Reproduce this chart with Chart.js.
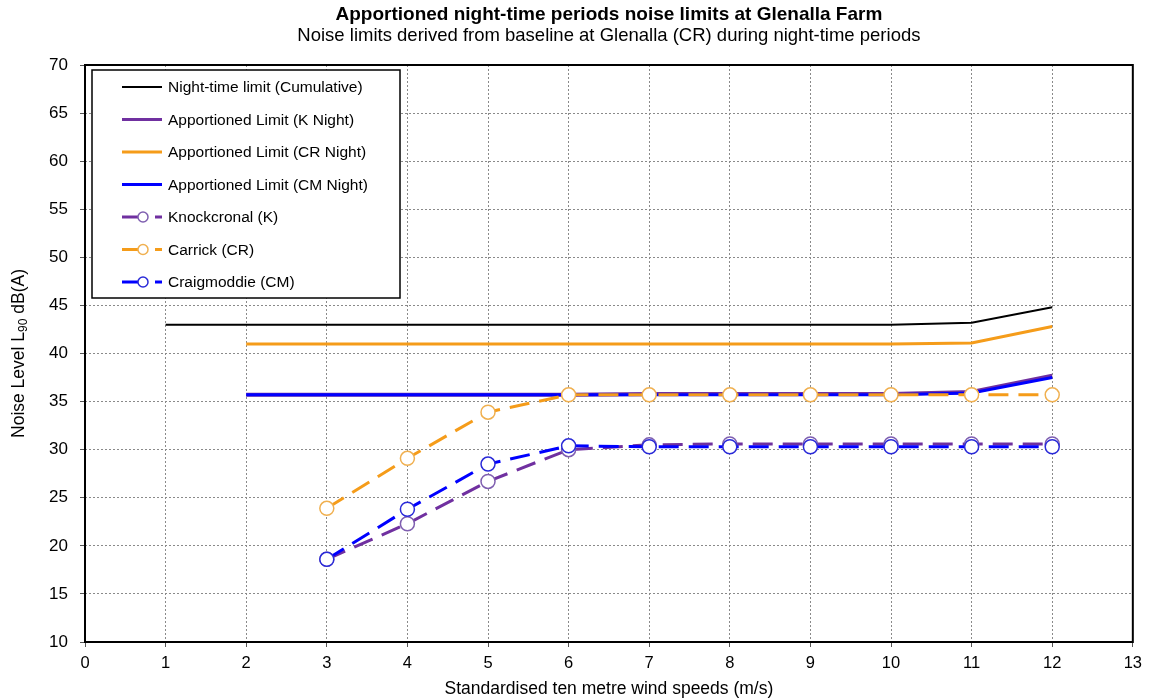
<!DOCTYPE html>
<html>
<head>
<meta charset="utf-8">
<script src="https://cdn.jsdelivr.net/npm/chart.js@4.4.1/dist/chart.umd.min.js"></script>
<style>
  body { margin: 0; background: #fff; }
  #wrap { width: 1149px; height: 700px; }
</style>
</head>
<body>
<div id="wrap"><canvas id="myChart" width="1149" height="700"></canvas></div>
<script>
// Wind speeds (m/s) shared by every series
const windSpeeds = [1, 2, 3, 4, 5, 6, 7, 8, 9, 10, 11, 12];

// Limits (dB LA90)
const nightCumulative = [43.0, 43.0, 43.0, 43.0, 43.0, 43.0, 43.0, 43.0, 43.0, 43.0, 43.2, 44.8];
const limitKNight  = [null, 35.7, 35.7, 35.7, 35.7, 35.7, 35.8, 35.8, 35.8, 35.8, 36.0, 37.7];
const limitCRNight = [null, 41.0, 41.0, 41.0, 41.0, 41.0, 41.0, 41.0, 41.0, 41.0, 41.1, 42.8];
const limitCMNight = [null, 35.7, 35.7, 35.7, 35.7, 35.7, 35.7, 35.7, 35.7, 35.7, 35.9, 37.5];

// Baseline derived levels per receptor
const knockcronal = [null, null, 18.6, 22.3, 26.7, 30.0, 30.5, 30.6, 30.6, 30.6, 30.6, 30.6];
const carrick     = [null, null, 23.9, 29.1, 33.9, 35.7, 35.7, 35.7, 35.7, 35.7, 35.7, 35.7];
const craigmoddie = [null, null, 18.6, 23.8, 28.5, 30.4, 30.3, 30.3, 30.3, 30.3, 30.3, 30.3];

const xTicks = [0, 1, 2, 3, 4, 5, 6, 7, 8, 9, 10, 11, 12, 13];

const chartTitle = 'Apportioned night-time periods noise limits at Glenalla Farm';
const chartSubtitle = 'Noise limits derived from baseline at Glenalla (CR) during night-time periods';

const FONT = '"Liberation Sans", Arial, sans-serif';

const COLORS = {
    black: '#000000',
    purple: '#7030A0',
    orange: '#F59C1A',
    blue: '#0000FF',
    purpleMark: '#7F5FB0',
    orangeMark: '#F0B050',
    blueMark: '#2A2AD8'
};

function toPoints(values) {
    return windSpeeds.map((x, i) => ({ x: x, y: values[i] }));
}

function solid(label, values, color, width, order) {
    return {
        label: label,
        data: toPoints(values),
        borderColor: color,
        backgroundColor: color,
        borderWidth: width,
        pointRadius: 0,
        order: order,
        legendType: 'solid'
    };
}

function dashed(label, values, color, markColor, order) {
    return {
        label: label,
        data: toPoints(values),
        borderColor: color,
        backgroundColor: '#ffffff',
        borderWidth: 3,
        borderDash: [20, 10],
        pointRadius: 7,
        pointBorderWidth: 1.5,
        pointBorderColor: markColor,
        pointBackgroundColor: '#ffffff',
        order: order,
        legendType: 'dashed',
        markColor: markColor
    };
}

const datasets = [
    solid('Night-time limit (Cumulative)', nightCumulative, COLORS.black, 2, 7),
    solid('Apportioned Limit (K Night)', limitKNight, COLORS.purple, 4, 6),
    solid('Apportioned Limit (CR Night)', limitCRNight, COLORS.orange, 3, 5),
    solid('Apportioned Limit (CM Night)', limitCMNight, COLORS.blue, 3, 4),
    dashed('Knockcronal (K)', knockcronal, COLORS.purple, COLORS.purpleMark, 3),
    dashed('Carrick (CR)', carrick, COLORS.orange, COLORS.orangeMark, 1),
    dashed('Craigmoddie (CM)', craigmoddie, COLORS.blue, COLORS.blueMark, 2)
];

// Frame round the plot area, titles, legend box and the y title with subscript
const framePlugin = {
    id: 'frame',
    afterDatasetsDraw(chart) {
        const { ctx, chartArea: a } = chart;
        ctx.save();
        ctx.strokeStyle = '#000';
        ctx.lineWidth = 2;
        ctx.strokeRect(a.left, a.top, a.right - a.left, a.bottom - a.top);
        ctx.restore();
    },
    afterDraw(chart) {
        const { ctx, chartArea: a } = chart;
        const midX = (a.left + a.right) / 2;
        ctx.save();

        // titles, centred over the plot area
        ctx.fillStyle = '#000';
        ctx.textAlign = 'center';
        ctx.textBaseline = 'middle';
        ctx.font = 'bold 19px ' + FONT;
        ctx.fillText(chartTitle, midX, 15);
        ctx.font = '18.5px ' + FONT;
        ctx.fillText(chartSubtitle, midX, 36);

        // legend
        ctx.textAlign = 'left';
        const bx = a.left + 7, by = a.top + 5, bw = 308, bh = 228;
        ctx.fillStyle = '#fff';
        ctx.fillRect(bx, by, bw, bh);
        ctx.strokeStyle = '#000';
        ctx.lineWidth = 1.5;
        ctx.strokeRect(bx, by, bw, bh);

        ctx.font = '15.5px ' + FONT;
        chart.data.datasets.forEach((ds, i) => {
            const y = by + 17 + i * 32.5;
            const x0 = bx + 30;
            ctx.lineWidth = ds.legendType === 'solid' ? Math.min(ds.borderWidth, 3) : 3;
            ctx.strokeStyle = ds.borderColor;
            ctx.setLineDash([]);
            ctx.beginPath();
            if (ds.legendType === 'solid') {
                ctx.moveTo(x0, y);
                ctx.lineTo(x0 + 40, y);
                ctx.stroke();
            } else {
                ctx.moveTo(x0, y);
                ctx.lineTo(x0 + 16, y);
                ctx.moveTo(x0 + 33, y);
                ctx.lineTo(x0 + 40, y);
                ctx.stroke();
                ctx.beginPath();
                ctx.arc(x0 + 21, y, 5, 0, Math.PI * 2);
                ctx.fillStyle = '#fff';
                ctx.fill();
                ctx.lineWidth = 1.5;
                ctx.strokeStyle = ds.markColor;
                ctx.stroke();
            }
            ctx.fillStyle = '#000';
            ctx.fillText(ds.label, x0 + 46, y + 1);
        });

        // y axis title: Noise Level L90 dB(A)
        const big = '17.5px ' + FONT;
        const small = '12px ' + FONT;
        const parts = [['Noise Level L', big, 0], ['90', small, 5], [' dB(A)', big, 0]];
        let total = 0;
        parts.forEach(p => { ctx.font = p[1]; total += ctx.measureText(p[0]).width; });
        ctx.translate(19, (a.top + a.bottom) / 2);
        ctx.rotate(-Math.PI / 2);
        ctx.fillStyle = '#000';
        let cx = -total / 2;
        parts.forEach(p => {
            ctx.font = p[1];
            ctx.fillText(p[0], cx, p[2]);
            cx += ctx.measureText(p[0]).width;
        });
        ctx.restore();
    }
};

const gridStyle = {
    color: '#8a8a8a',
    lineWidth: 1,
    drawTicks: true,
    tickLength: 5,
    tickColor: '#555'
};

// v4 keeps the grid line dash under "border"
const borderStyle = { display: false, dash: [2, 2] };

const config = {
    type: 'line',
    data: { datasets: datasets },
    options: {
        responsive: false,
        animation: false,
        layout: { padding: { left: 0, right: 16, top: 65, bottom: 0 } },
        plugins: {
            legend: { display: false },
            tooltip: { enabled: false },
            title: { display: false }
        },
        scales: {
            x: {
                type: 'linear',
                min: 0,
                max: 13,
                afterBuildTicks: (scale) => { scale.ticks = xTicks.map(v => ({ value: v })); },
                afterFit: (scale) => { scale.height = 58; },
                grid: gridStyle,
                border: borderStyle,
                ticks: {
                    color: '#000',
                    padding: 7,
                    font: { family: FONT, size: 16.5 }
                },
                title: {
                    display: true,
                    text: 'Standardised ten metre wind speeds (m/s)',
                    color: '#000',
                    padding: { top: 2, bottom: 0 },
                    font: { family: FONT, size: 17.5 }
                }
            },
            y: {
                min: 10,
                max: 70,
                afterFit: (scale) => { scale.width = 85; },
                grid: gridStyle,
                border: borderStyle,
                ticks: {
                    stepSize: 5,
                    color: '#000',
                    padding: 12,
                    font: { family: FONT, size: 17 }
                },
                title: { display: false }
            }
        }
    },
    plugins: [framePlugin]
};

const myChart = new Chart(document.getElementById('myChart'), config);
</script>
</body>
</html>
